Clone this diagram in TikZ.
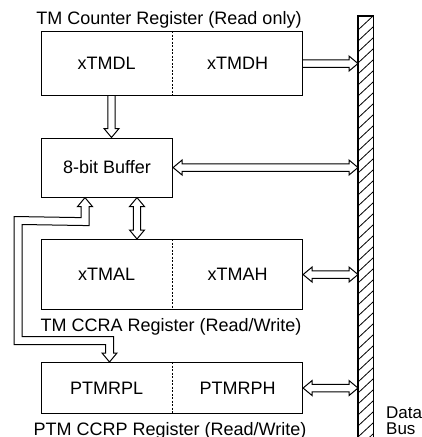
\documentclass[tikz,border=0pt]{standalone}
\usepackage{fontspec}
\setmainfont{Liberation Sans}
\usetikzlibrary{calc}
% double-headed hollow arrow between two points
\newcommand\DAarrow[2]{\filldraw[arr] (#1) -- ($(#1)!9pt!(#2)!7.5pt!90:(#2)$) -- ($(#1)!9pt!(#2)!3.7pt!90:(#2)$) -- ($(#2)!9pt!(#1)!3.7pt!-90:(#1)$) -- ($(#2)!9pt!(#1)!7.5pt!-90:(#1)$) -- (#2) -- ($(#2)!9pt!(#1)!7.5pt!90:(#1)$) -- ($(#2)!9pt!(#1)!3.7pt!90:(#1)$) -- ($(#1)!9pt!(#2)!3.7pt!-90:(#2)$) -- ($(#1)!9pt!(#2)!7.5pt!-90:(#2)$) -- cycle;}
% single-headed hollow arrow from #1 to #2 (open tail)
\newcommand\SAarrow[2]{\filldraw[arr] ($(#1)!3.7pt!90:(#2)$) -- ($(#2)!9pt!(#1)!3.7pt!-90:(#1)$) -- ($(#2)!9pt!(#1)!7.5pt!-90:(#1)$) -- (#2) -- ($(#2)!9pt!(#1)!7.5pt!90:(#1)$) -- ($(#2)!9pt!(#1)!3.7pt!90:(#1)$) -- ($(#1)!3.7pt!-90:(#2)$);}
\begin{document}
\begin{tikzpicture}[x=1pt,y=1pt,
  box/.style={draw,line width=1.1pt,inner sep=0pt,anchor=north west},
  lbl/.style={font=\fontsize{18}{20}\selectfont,inner sep=0pt},
  divider/.style={line width=0.8pt,dash pattern=on 2pt off 1.5pt},
  arr/.style={fill=white,draw=black,line width=1pt,line join=miter}
]
\useasboundingbox (0,0) rectangle (422,-437);
% boxes
\node[box,minimum width=261pt,minimum height=64pt] (cnt) at (41,-31) {};
\node[box,minimum width=131pt,minimum height=59pt] (buf) at (41,-137.5) {};
\node[box,minimum width=261pt,minimum height=70pt] (ccra) at (41,-239) {};
\node[box,minimum width=261pt,minimum height=51pt] (ccrp) at (41,-362) {};
\node[inner sep=0pt,minimum width=15pt,minimum height=440pt,anchor=north west] (bus) at (358,-16) {};
\begin{scope}
  \clip (bus.north west) rectangle (bus.south east);
  \foreach \k in {0,...,40} \draw[line width=0.8pt] (358,{-30-\k*11}) -- (373,{-16-\k*11});
\end{scope}
\draw[line width=1.2pt] (bus.north west) rectangle (bus.south east);
% dividers
\draw[divider] (cnt.north) -- (cnt.south);
\draw[divider] (ccra.north) -- (ccra.south);
\draw[divider] (ccrp.north) -- (ccrp.south);
% texts
\node[lbl] (dl) at ($(cnt.west)!0.25!(cnt.east)$) {xTMDL};
\node[lbl] (dh) at ($(cnt.west)!0.75!(cnt.east)$) {xTMDH};
\node[lbl] (bt) at (buf) {8-bit Buffer};
\node[lbl] (al) at ($(ccra.west)!0.25!(ccra.east)$) {xTMAL};
\node[lbl] (ah) at ($(ccra.west)!0.75!(ccra.east)$) {xTMAH};
\node[lbl] (pl) at ($(ccrp.west)!0.25!(ccrp.east)$) {PTMRPL};
\node[lbl] (ph) at ($(ccrp.west)!0.75!(ccrp.east)$) {PTMRPH};
\node[lbl,anchor=base] (t1) at (169,-24) {TM Counter Register (Read only)};
\node[lbl,anchor=base] (t2) at (171,-331) {TM CCRA Register (Read/Write)};
\node[lbl,anchor=base] (t3) at (170,-435) {PTM CCRP Register (Read/Write)};
\node[inner sep=0pt,anchor=north west,align=left,font=\fontsize{17}{16}\selectfont] (db) at (386,-407) {Data\\Bus};
% connectors
\coordinate (a1) at (bus.west |- cnt.east);
\SAarrow{cnt.east}{a1}
\coordinate (d0) at ($(cnt.south west)+(70.5,0)$);
\coordinate (d1) at ($(buf.north west)+(70.5,0)$);
\SAarrow{d0}{d1}
\coordinate (a2) at (bus.west |- buf.east);
\DAarrow{buf.east}{a2}
\coordinate (v0) at ($(buf.south west)+(96,0)$);
\coordinate (v1) at ($(ccra.north west)+(96,0)$);
\DAarrow{v0}{v1}
\coordinate (a3) at (bus.west |- ccra.east);
\DAarrow{ccra.east}{a3}
\coordinate (a4) at (bus.west |- ccrp.east);
\DAarrow{ccrp.east}{a4}
% bent arrow buffer <-> ccrp
\coordinate (b0) at ($(buf.south west)+(44,0)$);
\coordinate (b1) at ($(ccrp.north west)+(68.5,0)$);
\filldraw[arr] (b0) -- ++(7.5,-9) -- ++(-3.5,0) -- ++(0,-19) -- (22,-224.5) -- (22,-336.5) -- ($(b1)+(4,25.5)$) -- ($(b1)+(4,9)$) -- ($(b1)+(7.5,9)$) -- (b1) -- ($(b1)+(-7.5,9)$) -- ($(b1)+(-4,9)$) -- ($(b1)+(-4,17.5)$) -- (14,-344.5) -- (14,-216.5) -- ($(b0)+(-4,-20)$) -- ($(b0)+(-4,-9)$) -- ($(b0)+(-7.5,-9)$) -- cycle;
\end{tikzpicture}
\end{document}
